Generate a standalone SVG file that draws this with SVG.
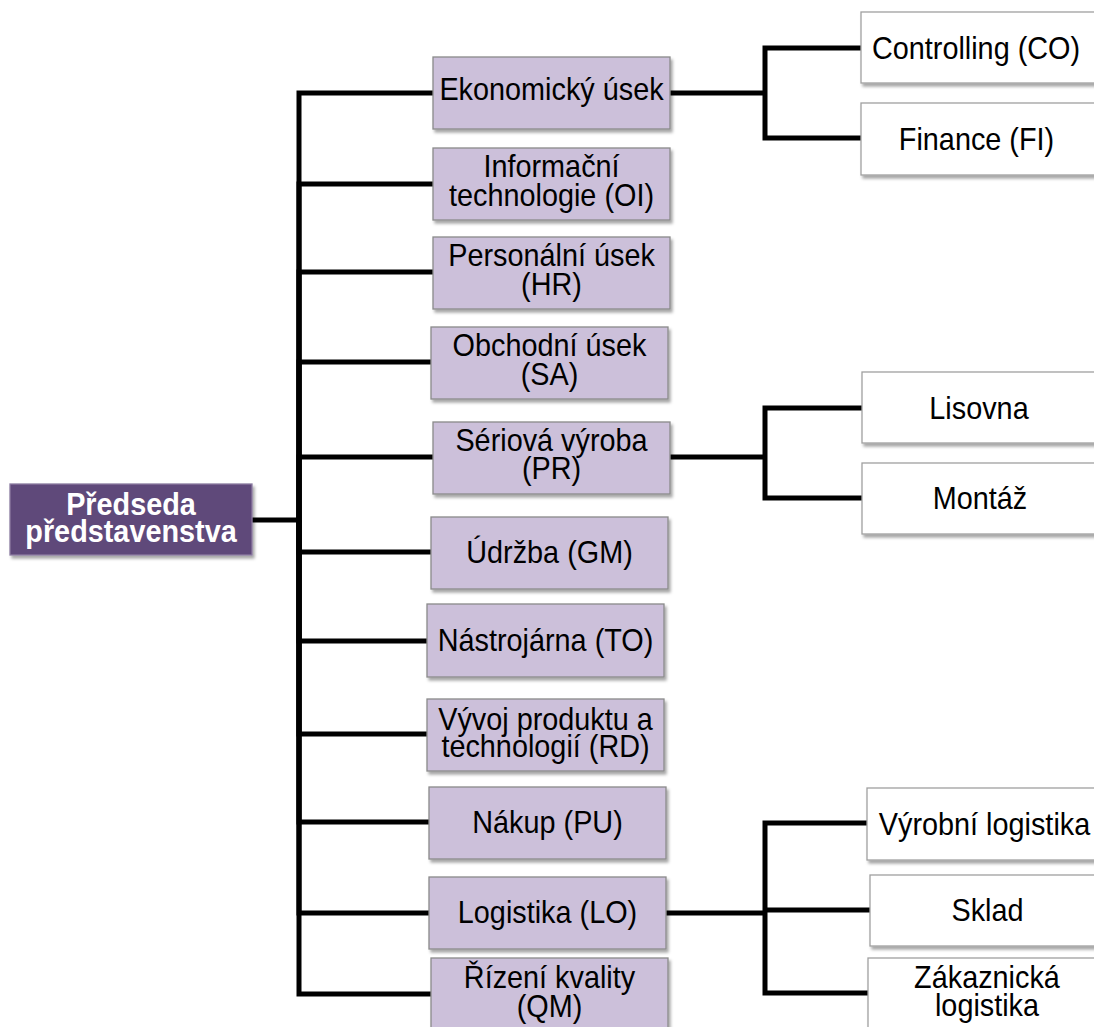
<svg xmlns="http://www.w3.org/2000/svg" width="1094" height="1027" viewBox="0 0 1094 1027">
<style>
.p{fill:#ccc0da;stroke:#8a8a8a;stroke-width:1.3}
.w{fill:#ffffff;stroke:#a0a0a0;stroke-width:1.3}
.r{fill:#5f497a;stroke:#8a7aa0;stroke-width:1.3}
text{font-family:"Liberation Sans",Arial,sans-serif;font-size:31px;fill:#000;text-anchor:middle}
.rt{fill:#fff;font-weight:bold}
.c{fill:none;stroke:#000;stroke-width:5;stroke-linejoin:miter}
</style>
<defs>
<filter id="sh" x="-5%" y="-10%" width="115%" height="130%">
<feDropShadow dx="2" dy="3" stdDeviation="1.6" flood-color="#000" flood-opacity="0.35"/>
</filter>
</defs>
<rect width="1094" height="1027" fill="#fff"/>
<g id="connectors">
<path class="c" d="M252,520 H299 V93 H433"/>
<path class="c" d="M299,520 V184 H433"/>
<path class="c" d="M299,520 V272 H433"/>
<path class="c" d="M299,520 V362 H431"/>
<path class="c" d="M299,520 V457 H433"/>
<path class="c" d="M299,520 V552 H431"/>
<path class="c" d="M299,520 V641 H427"/>
<path class="c" d="M299,520 V734 H427"/>
<path class="c" d="M299,520 V822 H429"/>
<path class="c" d="M299,520 V913 H429"/>
<path class="c" d="M299,520 V994 H431"/>
<path class="c" d="M670,93 H765"/>
<path class="c" d="M861,48 H765 V138 H861"/>
<path class="c" d="M670,457 H765"/>
<path class="c" d="M862,408 H765 V498 H862"/>
<path class="c" d="M666,913 H765"/>
<path class="c" d="M867,823 H765 V993 H868"/>
<path class="c" d="M765,910 H870"/>
</g>
<g id="root">
<rect class="r" x="10" y="484" width="242" height="71" filter="url(#sh)"/>
<text class="rt" transform="translate(131 515) scale(0.93 1)">Předseda</text>
<text class="rt" transform="translate(131 542) scale(0.93 1)">představenstva</text>
</g>
<g id="eko">
<rect class="p" x="433" y="57" width="237" height="72" filter="url(#sh)"/>
<text transform="translate(551.5 100) scale(0.93 1)">Ekonomický úsek</text>
</g>
<g id="oi">
<rect class="p" x="433" y="148" width="237" height="72" filter="url(#sh)"/>
<text transform="translate(551.5 177) scale(0.93 1)">Informační</text>
<text transform="translate(551.5 206) scale(0.93 1)">technologie (OI)</text>
</g>
<g id="hr">
<rect class="p" x="433" y="237" width="237" height="72" filter="url(#sh)"/>
<text transform="translate(551.5 266) scale(0.93 1)">Personální úsek</text>
<text transform="translate(551.5 295) scale(0.93 1)">(HR)</text>
</g>
<g id="sa">
<rect class="p" x="431" y="327" width="237" height="72" filter="url(#sh)"/>
<text transform="translate(549.5 356) scale(0.93 1)">Obchodní úsek</text>
<text transform="translate(549.5 385) scale(0.93 1)">(SA)</text>
</g>
<g id="pr">
<rect class="p" x="433" y="422" width="237" height="72" filter="url(#sh)"/>
<text transform="translate(551.5 451) scale(0.93 1)">Sériová výroba</text>
<text transform="translate(551.5 479) scale(0.93 1)">(PR)</text>
</g>
<g id="gm">
<rect class="p" x="431" y="517" width="237" height="72" filter="url(#sh)"/>
<text transform="translate(549.5 563) scale(0.93 1)">Údržba (GM)</text>
</g>
<g id="to">
<rect class="p" x="427" y="604" width="237" height="73" filter="url(#sh)"/>
<text transform="translate(545.5 651) scale(0.93 1)">Nástrojárna (TO)</text>
</g>
<g id="rd">
<rect class="p" x="427" y="699" width="237" height="72" filter="url(#sh)"/>
<text transform="translate(545.5 730) scale(0.93 1)">Vývoj produktu a</text>
<text transform="translate(545.5 757) scale(0.93 1)">technologií (RD)</text>
</g>
<g id="pu">
<rect class="p" x="429" y="787" width="237" height="72" filter="url(#sh)"/>
<text transform="translate(547.5 833) scale(0.93 1)">Nákup (PU)</text>
</g>
<g id="lo">
<rect class="p" x="429" y="877" width="237" height="72" filter="url(#sh)"/>
<text transform="translate(547.5 923) scale(0.93 1)">Logistika (LO)</text>
</g>
<g id="qm">
<rect class="p" x="431" y="958" width="237" height="72" filter="url(#sh)"/>
<text transform="translate(549.5 988) scale(0.93 1)">Řízení kvality</text>
<text transform="translate(549.5 1017) scale(0.93 1)">(QM)</text>
</g>
<g id="co">
<rect class="w" x="861" y="12" width="245" height="71" filter="url(#sh)"/>
<text transform="translate(976 59) scale(0.93 1)">Controlling (CO)</text>
</g>
<g id="fi">
<rect class="w" x="861" y="103" width="245" height="72" filter="url(#sh)"/>
<text transform="translate(976.5 150) scale(0.93 1)">Finance (FI)</text>
</g>
<g id="lis">
<rect class="w" x="862" y="372" width="245" height="71" filter="url(#sh)"/>
<text transform="translate(979 419) scale(0.93 1)">Lisovna</text>
</g>
<g id="mon">
<rect class="w" x="862" y="463" width="245" height="71" filter="url(#sh)"/>
<text transform="translate(980 509) scale(0.93 1)">Montáž</text>
</g>
<g id="vl">
<rect class="w" x="867" y="788" width="245" height="72" filter="url(#sh)"/>
<text transform="translate(984.5 835) scale(0.93 1)">Výrobní logistika</text>
</g>
<g id="sk">
<rect class="w" x="870" y="875" width="245" height="71" filter="url(#sh)"/>
<text transform="translate(987.5 921) scale(0.93 1)">Sklad</text>
</g>
<g id="zl">
<rect class="w" x="868" y="958" width="245" height="72" filter="url(#sh)"/>
<text transform="translate(987 988) scale(0.93 1)">Zákaznická</text>
<text transform="translate(987 1016) scale(0.93 1)">logistika</text>
</g>
</svg>
